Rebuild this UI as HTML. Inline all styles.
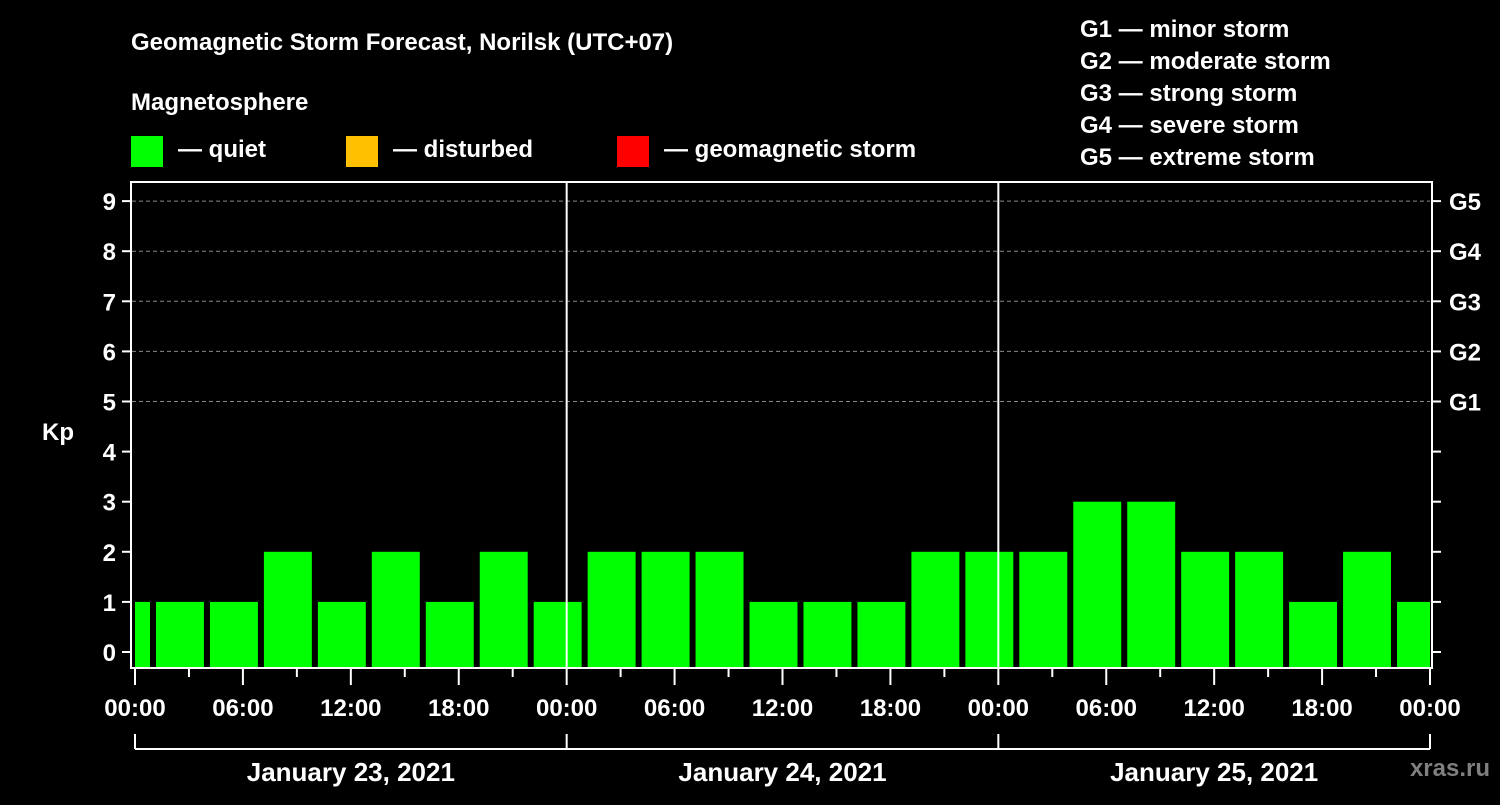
<!DOCTYPE html>
<html><head><meta charset="utf-8"><style>
body{margin:0;background:#000;width:1500px;height:800px;overflow:hidden}
svg text{font-family:"Liberation Sans",Arial,sans-serif;font-weight:bold;fill:#fff}
</style></head><body>
<svg id="c" width="1500" height="800" xmlns="http://www.w3.org/2000/svg">
<text x="131" y="50" font-size="24">Geomagnetic Storm Forecast, Norilsk (UTC+07)</text>
<text x="131" y="110" font-size="24">Magnetosphere</text>
<rect x="131" y="136" width="32" height="31" fill="#00ff00"/>
<text x="178" y="157" font-size="24">— quiet</text>
<rect x="346" y="136" width="32" height="31" fill="#ffc000"/>
<text x="393" y="157" font-size="24">— disturbed</text>
<rect x="617" y="136" width="32" height="31" fill="#ff0000"/>
<text x="664" y="157" font-size="24">— geomagnetic storm</text>
<g font-size="24">
<text x="1080" y="37">G1 — minor storm</text>
<text x="1080" y="69">G2 — moderate storm</text>
<text x="1080" y="101">G3 — strong storm</text>
<text x="1080" y="133">G4 — severe storm</text>
<text x="1080" y="165">G5 — extreme storm</text>
</g>
<text x="42" y="440" font-size="24">Kp</text>
<text x="1490" y="776" font-size="24" text-anchor="end" fill="#888" style="fill:#7f7f7f">xras.ru</text>
<g id="plot"></g>
</svg>
<script>
const kpValues=[1,1,1,2,1,2,1,2,1,2,2,2,1,1,1,2,2,2,3,3,2,2,1,2,1];
const binStartHours=[-2,1,4,7,10,13,16,19,22,25,28,31,34,37,40,43,46,49,52,55,58,61,64,67,70];
const yTicks=[0,1,2,3,4,5,6,7,8,9];
const gLabels=["G1","G2","G3","G4","G5"];
const gLevels=[5,6,7,8,9];
const hourLabels=["00:00","06:00","12:00","18:00"];
const dayLabels=["January 23, 2021","January 24, 2021","January 25, 2021"];
const NS="http://www.w3.org/2000/svg";
const X0=135,X1=1430,H=72;
const x=h=>X0+(X1-X0)*h/H;
const y=v=>652-v*50.1;
const g=document.getElementById('plot');
function el(t,a){const e=document.createElementNS(NS,t);for(const k in a)e.setAttribute(k,a[k]);g.appendChild(e);return e;}
// grid
gLevels.forEach(v=>{const l=el('line',{x1:132,x2:1430,y1:y(v),y2:y(v),stroke:'#888','stroke-dasharray':'4,3','stroke-width':1});

});
// bars
kpValues.forEach((v,i)=>{let a=x(binStartHours[i])+3,b=x(binStartHours[i]+3)-3;a=Math.max(a,X0);b=Math.min(b,X1);
const r=el('rect',{x:a,y:y(v),width:b-a,height:667-y(v),fill:'#00ff00'});

});
// day separators
[1,2].forEach(d=>{const l=el('line',{x1:x(d*24),x2:x(d*24),y1:182,y2:668,stroke:'#fff','stroke-width':2});

});
// frame
const f=el('rect',{x:131,y:182,width:1301,height:486,fill:'none',stroke:'#fff','stroke-width':2});


// y ticks
yTicks.forEach(v=>{
el('line',{x1:122,x2:131,y1:y(v),y2:y(v),stroke:'#fff','stroke-width':2});
el('line',{x1:1432,x2:1441,y1:y(v),y2:y(v),stroke:'#fff','stroke-width':2});
const t=el('text',{x:116,y:y(v)+9,'font-size':24,'text-anchor':'end'});t.textContent=v;

});
gLabels.forEach((s,i)=>{const t=el('text',{x:1449,y:y(gLevels[i])+9,'font-size':24});t.textContent=s;

});
// x ticks
for(let h=0;h<=H;h+=3){el('line',{x1:x(h),x2:x(h),y1:668,y2:h%6?677:685,stroke:'#fff','stroke-width':2});}
for(let h=0;h<=H;h+=6){const t=el('text',{x:x(h),y:716,'font-size':24,'text-anchor':'middle'});t.textContent=hourLabels[(h/6)%4];

}
// day bracket
el('line',{x1:X0,x2:X1,y1:749,y2:749,stroke:'#fff','stroke-width':2});
for(let d=0;d<=3;d++)el('line',{x1:x(d*24),x2:x(d*24),y1:734,y2:749,stroke:'#fff','stroke-width':2});
dayLabels.forEach((s,i)=>{const t=el('text',{x:x(i*24+12),y:781,'font-size':26,'text-anchor':'middle'});t.textContent=s;

});
</script>
</body></html>
